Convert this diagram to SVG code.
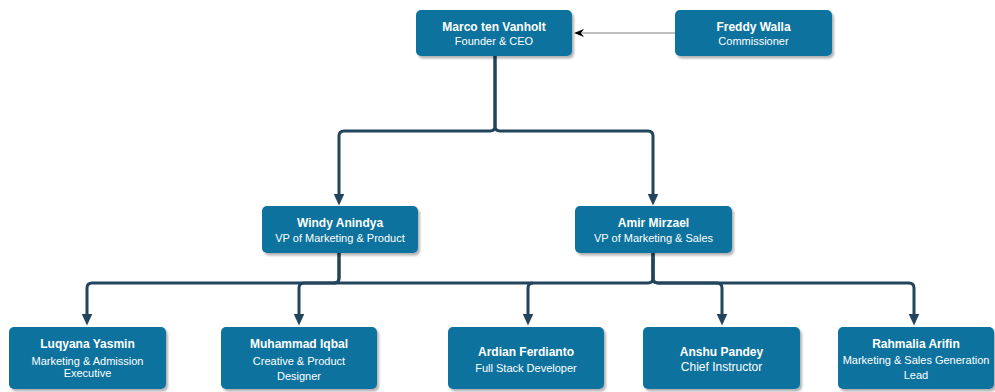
<svg xmlns="http://www.w3.org/2000/svg" width="995" height="392" viewBox="0 0 995 392">
<style>
.box{fill:#10739E;filter:url(#sh)}
.nm{font-family:"Liberation Sans",Arial,sans-serif;font-size:12px;font-weight:bold;fill:#fff;text-anchor:middle}
.rl{font-family:"Liberation Sans",Arial,sans-serif;font-size:11px;fill:#fff;text-anchor:middle}
.rl12{font-size:12px}
.edge{fill:none;stroke:#23445D;stroke-width:3;marker-end:url(#blk)}
.bus{fill:none;stroke:#23445D;stroke-width:3}
.thin{fill:none;stroke:#808080;stroke-width:1;marker-end:url(#cls)}
</style>
<defs>
<filter id="sh" x="-10%" y="-10%" width="130%" height="140%">
<feDropShadow dx="2" dy="2.5" stdDeviation="1" flood-color="#000" flood-opacity="0.3"/>
</filter>
<marker id="blk" viewBox="0 0 12 11" markerWidth="12" markerHeight="11" refX="0.5" refY="5.5" orient="auto" markerUnits="userSpaceOnUse">
<path d="M0,0 L12,5.5 L0,11 z" fill="#23445D"/>
</marker>
<marker id="cls" viewBox="0 0 10 8" markerWidth="10" markerHeight="8" refX="2" refY="4" orient="auto" markerUnits="userSpaceOnUse">
<path d="M0,0 L10,4 L0,8 L3,4 z" fill="#000"/>
</marker>
</defs>
<g id="connectors">
<path class="thin" d="M675,33 H582"/>
<path class="edge" d="M495,56 V126 Q495,131 490,131 H344 Q339,131 339,136 V194"/>
<path class="edge" d="M495,56 V126 Q495,131 500,131 H648 Q653,131 653,136 V194"/>
<path class="bus" d="M334,283 H533"/>
<path class="edge" d="M339,253 V278 Q339,283 334,283 H92 Q87,283 87,288 V314"/>
<path class="edge" d="M339,253 V278 Q339,283 334,283 H304 Q299,283 299,288 V314"/>
<path class="edge" d="M653,253 V278 Q653,283 648,283 H533 Q528,283 528,288 V314"/>
<path class="edge" d="M653,253 V278 Q653,283 658,283 H717 Q722,283 722,288 V314"/>
<path class="edge" d="M653,253 V278 Q653,283 658,283 H909 Q914,283 914,288 V314"/>
</g>
<g id="marco"><rect class="box" x="416" y="10" width="156" height="46" rx="5"/><text class="nm" x="494" y="31">Marco ten Vanholt</text><text class="rl" x="494" y="45">Founder &amp; CEO</text></g>
<g id="freddy"><rect class="box" x="675" y="10" width="157" height="46" rx="5"/><text class="nm" x="753.5" y="31">Freddy Walla</text><text class="rl" x="753.5" y="45">Commissioner</text></g>
<g id="windy"><rect class="box" x="262" y="206" width="156" height="47" rx="5"/><text class="nm" x="340" y="227">Windy Anindya</text><text class="rl" x="340" y="242">VP of Marketing &amp; Product</text></g>
<g id="amir"><rect class="box" x="575" y="206" width="157" height="47" rx="5"/><text class="nm" x="653.5" y="227">Amir Mirzael</text><text class="rl" x="653.5" y="242">VP of Marketing &amp; Sales</text></g>
<g id="luqyana"><rect class="box" x="9" y="327" width="157" height="62" rx="5"/><text class="nm" x="87.5" y="348">Luqyana Yasmin</text><text class="rl" x="87.5" y="365">Marketing &amp; Admission</text><text class="rl" x="87.5" y="377">Executive</text></g>
<g id="muhammad"><rect class="box" x="221" y="327" width="156" height="62" rx="5"/><text class="nm" x="299" y="348">Muhammad Iqbal</text><text class="rl" x="299" y="365">Creative &amp; Product</text><text class="rl" x="299" y="380">Designer</text></g>
<g id="ardian"><rect class="box" x="448" y="327" width="156" height="62" rx="5"/><text class="nm" x="526" y="356">Ardian Ferdianto</text><text class="rl" x="526" y="372">Full Stack Developer</text></g>
<g id="anshu"><rect class="box" x="643" y="327" width="157" height="62" rx="5"/><text class="nm" x="721.5" y="356">Anshu Pandey</text><text class="rl rl12" x="721.5" y="371">Chief Instructor</text></g>
<g id="rahmalia"><rect class="box" x="838" y="327" width="156" height="62" rx="5"/><text class="nm" x="916" y="348">Rahmalia Arifin</text><text class="rl" x="916" y="364">Marketing &amp; Sales Generation</text><text class="rl" x="916" y="379">Lead</text></g>
</svg>
